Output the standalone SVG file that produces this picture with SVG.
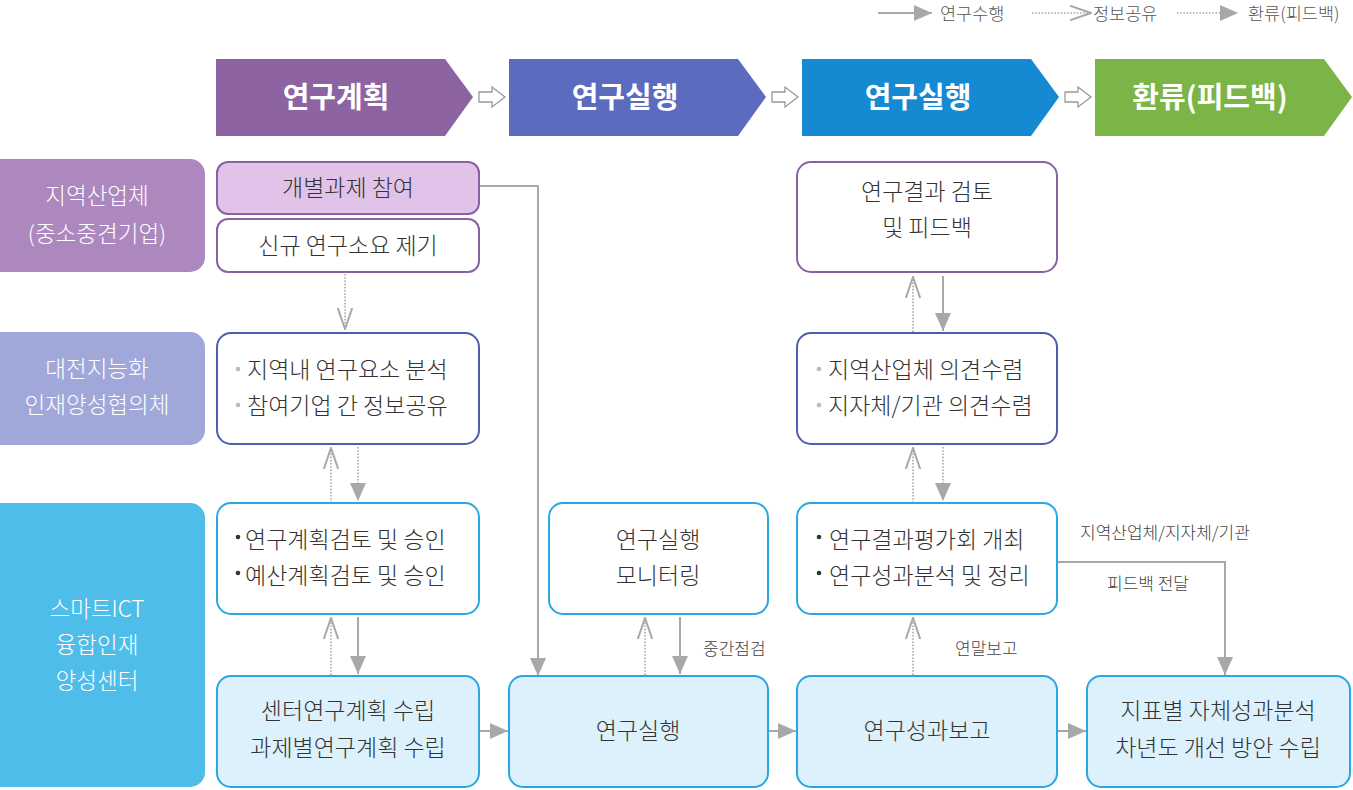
<svg xmlns="http://www.w3.org/2000/svg" width="1353" height="790" viewBox="0 0 1353 790">
<style>
text{font-family:"Noto Sans CJK KR","Noto Sans",sans-serif;}
.nt{font-size:23px;font-weight:300;fill:#333;}
.ntc{font-size:23px;font-weight:300;fill:#333;text-anchor:middle;}
.hd{font-size:29px;font-weight:bold;fill:#fff;text-anchor:middle;}
.lb{font-size:22.5px;font-weight:300;fill:#fff;text-anchor:middle;}
.lg{font-size:17.5px;font-weight:300;fill:#555;}
.cl{font-size:17px;font-weight:300;fill:#444;}
.sol{stroke:#A8A8A8;stroke-width:2;fill:none;}
.dot{stroke:#A8A8A8;stroke-width:1.6;stroke-dasharray:1.6 1.6;fill:none;}
.bx-p{stroke:#8A62A0;stroke-width:2;fill:#fff;}
.bx-i{stroke:#4E5DAE;stroke-width:2;fill:#fff;}
.bx-b{stroke:#2AA7E2;stroke-width:2;fill:#fff;}
.bx-bl{stroke:#2AA7E2;stroke-width:2;fill:#DCF1FC;}
.ha{fill:#fff;stroke:#999;stroke-width:1.3;}
.gb{fill:#BBB;}
</style>
<defs>
<marker id="tri" viewBox="0 0 18 16" refX="18" refY="8" markerWidth="18" markerHeight="16" orient="auto" markerUnits="userSpaceOnUse"><path d="M0,0 L18,8 L0,16 Z" fill="#A8A8A8"/></marker>
<marker id="vee" viewBox="0 0 22 16" refX="21" refY="8" markerWidth="22" markerHeight="16" orient="auto" markerUnits="userSpaceOnUse"><path d="M0,0.8 L21,8 L0,15.2" fill="none" stroke="#A8A8A8" stroke-width="2"/></marker>
</defs>
<rect width="1353" height="790" fill="#fff"/>

<g id="legend">
<line x1="878" y1="13" x2="932" y2="13" class="sol" marker-end="url(#tri)"/>
<text x="940" y="20" class="lg">연구수행</text>
<line x1="1032" y1="13" x2="1091" y2="13" class="dot" marker-end="url(#vee)"/>
<text x="1093" y="20" class="lg">정보공유</text>
<line x1="1177" y1="13" x2="1238" y2="13" class="dot" marker-end="url(#tri)"/>
<text x="1248" y="20" class="lg">환류(피드백)</text>
</g>

<g id="header1"><polygon points="216,59 445,59 473,97 445,136 216,136" fill="#8D64A1"/><text x="336" y="108" class="hd">연구계획</text></g>
<g id="header2"><polygon points="509,59 738,59 766,97 738,136 509,136" fill="#5B6CBF"/><text x="625" y="108" class="hd">연구실행</text></g>
<g id="header3"><polygon points="802,59 1031,59 1059,97 1031,136 802,136" fill="#1589D2"/><text x="918" y="108" class="hd">연구실행</text></g>
<g id="header4"><polygon points="1095,59 1324,59 1352,97 1324,136 1095,136" fill="#7BB447"/><text x="1210" y="108" class="hd">환류(피드백)</text></g>
<g id="phase-arrows">
<path class="ha" d="M479,92 L492,92 L492,87 L505,97 L492,107 L492,102 L479,102 Z"/>
<path class="ha" d="M772,92 L785,92 L785,87 L798,97 L785,107 L785,102 L772,102 Z"/>
<path class="ha" d="M1065,92 L1078,92 L1078,87 L1091,97 L1078,107 L1078,102 L1065,102 Z"/>
</g>

<g id="label1"><rect x="-15" y="159" width="220" height="113" rx="15" fill="#AC88BF"/><text x="97" y="204" class="lb">지역산업체</text><text x="97" y="242" class="lb">(중소중견기업)</text></g>
<g id="label2"><rect x="-15" y="332" width="220" height="113" rx="15" fill="#9FA8D9"/><text x="97" y="377" class="lb">대전지능화</text><text x="97" y="413" class="lb">인재양성협의체</text></g>
<g id="label3"><rect x="-15" y="503" width="220" height="284" rx="15" fill="#4FBDE9"/><text x="97" y="617" class="lb">스마트ICT</text><text x="97" y="653" class="lb">융합인재</text><text x="97" y="689" class="lb">양성센터</text></g>

<g id="connectors">
<polyline points="479,186 538,186 538,676" class="sol" marker-end="url(#tri)"/>
<line x1="345" y1="274" x2="345" y2="329" class="dot" marker-end="url(#vee)"/>
<line x1="331" y1="503" x2="331" y2="448" class="dot" marker-end="url(#vee)"/>
<line x1="358" y1="447" x2="358" y2="501" class="dot" marker-end="url(#tri)"/>
<line x1="331" y1="675" x2="331" y2="618" class="dot" marker-end="url(#vee)"/>
<line x1="358" y1="617" x2="358" y2="674" class="sol" marker-end="url(#tri)"/>
<line x1="479" y1="731" x2="508" y2="731" class="sol" marker-end="url(#tri)"/>
<line x1="645" y1="675" x2="645" y2="618" class="dot" marker-end="url(#vee)"/>
<line x1="680" y1="617" x2="680" y2="674" class="sol" marker-end="url(#tri)"/>
<line x1="768" y1="731" x2="796" y2="731" class="sol" marker-end="url(#tri)"/>
<line x1="913" y1="675" x2="913" y2="618" class="dot" marker-end="url(#vee)"/>
<line x1="913" y1="503" x2="913" y2="448" class="dot" marker-end="url(#vee)"/>
<line x1="943" y1="447" x2="943" y2="501" class="dot" marker-end="url(#tri)"/>
<line x1="913" y1="332" x2="913" y2="277" class="dot" marker-end="url(#vee)"/>
<line x1="943" y1="276" x2="943" y2="331" class="sol" marker-end="url(#tri)"/>
<polyline points="1057,562 1225,562 1225,675" class="sol" marker-end="url(#tri)"/>
<line x1="1057" y1="731" x2="1086" y2="731" class="sol" marker-end="url(#tri)"/>
<text x="703" y="655" class="cl">중간점검</text>
<text x="955" y="655" class="cl">연말보고</text>
<text x="1080" y="539" class="cl">지역산업체/지자체/기관</text>
<text x="1107" y="590" class="cl">피드백 전달</text>
</g>

<g id="n-participate"><rect x="217" y="162" width="262" height="52" rx="11" class="bx-p" style="fill:#E1C3E9"/><text x="348" y="196" class="ntc">개별과제 참여</text></g>
<g id="n-propose"><rect x="217" y="219" width="262" height="53" rx="11" class="bx-p"/><text x="348" y="254" class="ntc">신규 연구소요 제기</text></g>
<g id="n-review"><rect x="797" y="162" width="260" height="110" rx="14" class="bx-p"/><text x="927" y="200" class="ntc">연구결과 검토</text><text x="927" y="236" class="ntc">및 피드백</text></g>
<g id="n-analysis"><rect x="217" y="333" width="262" height="111" rx="14" class="bx-i"/><circle cx="238" cy="369" r="2.3" class="gb"/><circle cx="238" cy="405" r="2.3" class="gb"/><text x="247" y="378" class="nt">지역내 연구요소 분석</text><text x="247" y="414" class="nt">참여기업 간 정보공유</text></g>
<g id="n-opinion"><rect x="797" y="333" width="260" height="111" rx="14" class="bx-i"/><circle cx="819" cy="369" r="2.3" class="gb"/><circle cx="819" cy="405" r="2.3" class="gb"/><text x="828" y="378" class="nt">지역산업체 의견수렴</text><text x="828" y="414" class="nt">지자체/기관 의견수렴</text></g>
<g id="n-approve"><rect x="217" y="503" width="262" height="111" rx="14" class="bx-b"/><circle cx="238" cy="537" r="2.3" fill="#333"/><circle cx="238" cy="573" r="2.3" fill="#333"/><text x="245" y="548" class="nt">연구계획검토 및 승인</text><text x="245" y="584" class="nt">예산계획검토 및 승인</text></g>
<g id="n-monitor"><rect x="549" y="503" width="219" height="111" rx="14" class="bx-b"/><text x="658" y="548" class="ntc">연구실행</text><text x="658" y="584" class="ntc">모니터링</text></g>
<g id="n-evaluate"><rect x="797" y="503" width="260" height="111" rx="14" class="bx-b"/><circle cx="819" cy="537" r="2.3" fill="#333"/><circle cx="819" cy="573" r="2.3" fill="#333"/><text x="829" y="548" class="nt">연구결과평가회 개최</text><text x="829" y="584" class="nt">연구성과분석 및 정리</text></g>
<g id="n-plan"><rect x="217" y="676" width="262" height="111" rx="14" class="bx-bl"/><text x="348" y="719" class="ntc">센터연구계획 수립</text><text x="348" y="756" class="ntc">과제별연구계획 수립</text></g>
<g id="n-execute"><rect x="509" y="676" width="259" height="111" rx="14" class="bx-bl"/><text x="638" y="739" class="ntc">연구실행</text></g>
<g id="n-report"><rect x="797" y="676" width="260" height="111" rx="14" class="bx-bl"/><text x="927" y="739" class="ntc">연구성과보고</text></g>
<g id="n-improve"><rect x="1087" y="676" width="263" height="111" rx="14" class="bx-bl"/><text x="1218" y="719" class="ntc">지표별 자체성과분석</text><text x="1218" y="756" class="ntc">차년도 개선 방안 수립</text></g>
</svg>
